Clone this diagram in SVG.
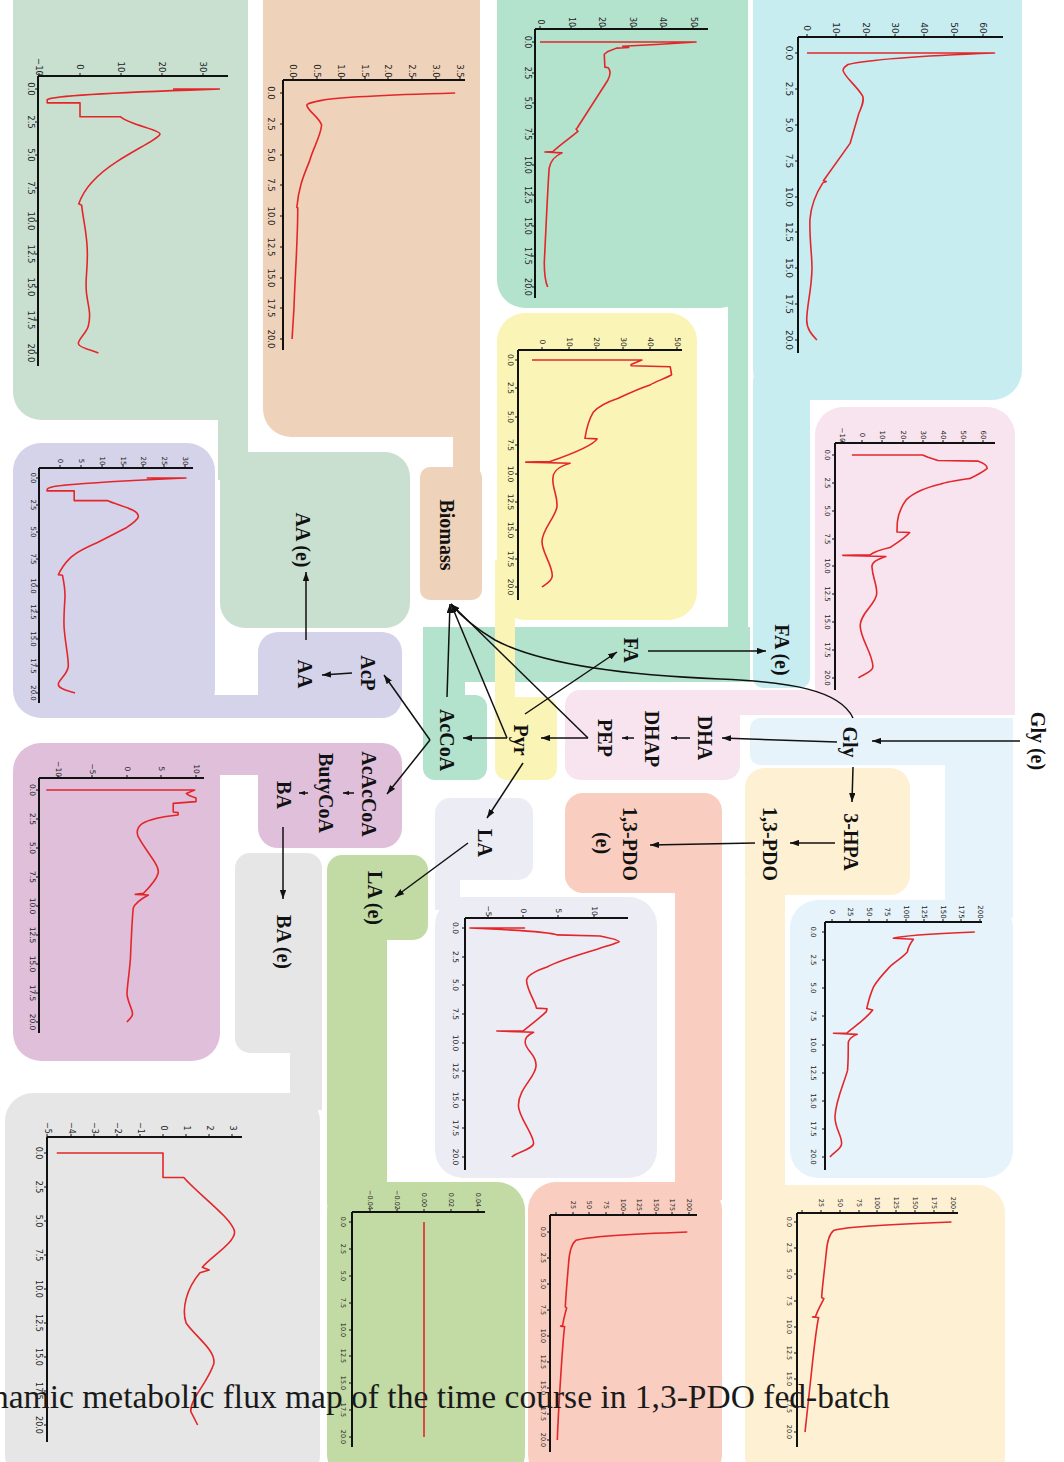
<svg xmlns="http://www.w3.org/2000/svg" width="1064" height="1462" viewBox="0 0 1064 1462">
<style>
.ax{stroke:#111;stroke-width:2;fill:none}
.tk{stroke:#111;stroke-width:1;fill:none}
.cv{fill:none;stroke:#e3262a;stroke-width:1.6;vector-effect:non-scaling-stroke;stroke-linejoin:round}
.tl{font-family:"DejaVu Sans",sans-serif;fill:#222;text-anchor:middle;dominant-baseline:central}
.nd{font-family:"Liberation Serif",serif;font-weight:bold;font-size:20px;fill:#111;text-anchor:middle;dominant-baseline:central}
.ln{fill:none;stroke:#111;stroke-width:1.5}
.ar{marker-end:url(#ah)}
.as{marker-end:url(#ahs)}
</style>
<defs>
<marker id="ah" viewBox="0 0 10 7" markerWidth="9" markerHeight="6.3" refX="10" refY="3.5" orient="auto" markerUnits="userSpaceOnUse"><path d="M0,0L10,3.5L0,7z" fill="#111"/></marker>
<marker id="ahs" viewBox="0 0 10 7" markerWidth="6" markerHeight="4.5" refX="10" refY="3.5" orient="auto" markerUnits="userSpaceOnUse"><path d="M0,0L10,3.5L0,7z" fill="#111"/></marker>
</defs>
<rect width="1064" height="1462" fill="#fff"/>
<g id="panels">
<g fill="#c9e0d1"><rect x="13" y="-30" width="235" height="450" rx="28"/><rect x="218" y="380" width="30" height="100"/><rect x="220" y="452" width="190" height="176" rx="25"/></g>
<g fill="#eed3ba"><rect x="263" y="-30" width="217" height="467" rx="28"/><rect x="453" y="400" width="27" height="80"/><rect x="420" y="467" width="62" height="133" rx="10"/></g>
<g fill="#b3e2cd"><rect x="497" y="-30" width="251" height="338" rx="28"/><rect x="728" y="280" width="20" height="402"/><rect x="423" y="627" width="327" height="55"/><rect x="423" y="627" width="42" height="80"/><rect x="423" y="695" width="64" height="85" rx="12"/></g>
<g fill="#c8edf1"><rect x="753" y="-30" width="269" height="430" rx="30"/><rect x="753" y="370" width="57" height="318" rx="10"/></g>
<g fill="#faf5b6"><rect x="497" y="313" width="200" height="307" rx="28"/><rect x="495" y="560" width="20" height="160"/><rect x="495" y="697" width="62" height="83" rx="12"/></g>
<g fill="#f7e4ef"><rect x="815" y="407" width="200" height="308" rx="28"/><rect x="707" y="690" width="308" height="25"/><rect x="565" y="690" width="175" height="90" rx="15"/></g>
<g fill="#e7f3fb"><rect x="750" y="718" width="263" height="47" rx="10"/><rect x="945" y="718" width="68" height="200"/><rect x="790" y="900" width="223" height="278" rx="28"/></g>
<g fill="#fdf0d3"><rect x="745" y="768" width="165" height="127" rx="20"/><rect x="745" y="880" width="40" height="330"/><rect x="745" y="1185" width="260" height="300" rx="28"/></g>
<g fill="#f9cdbf"><rect x="565" y="793" width="157" height="100" rx="18"/><rect x="675" y="870" width="47" height="330"/><rect x="528" y="1182" width="194" height="300" rx="28"/></g>
<g fill="#ececf4"><rect x="435" y="798" width="98" height="82" rx="15"/><rect x="435" y="870" width="25" height="40"/><rect x="435" y="897" width="222" height="281" rx="28"/></g>
<g fill="#c2daa4"><rect x="327" y="855" width="101" height="85" rx="15"/><rect x="327" y="925" width="60" height="280"/><rect x="327" y="1182" width="198" height="300" rx="28"/></g>
<g fill="#e6e6e6"><rect x="235" y="853" width="87" height="200" rx="15"/><rect x="290" y="1040" width="32" height="70"/><rect x="5" y="1093" width="315" height="390" rx="28"/></g>
<g fill="#d5d3ea"><rect x="13" y="443" width="202" height="275" rx="28"/><rect x="180" y="695" width="130" height="23"/><rect x="258" y="632" width="144" height="86" rx="20"/></g>
<g fill="#dfbfda"><rect x="13" y="743" width="207" height="318" rx="28"/><rect x="180" y="743" width="130" height="32"/><rect x="258" y="743" width="144" height="105" rx="20"/></g>
</g>

<g id="plot-1">
<path class="ax" d="M38,76H228M38,76V366"/>
<path class="tk" d="M39,76v-3M80,76v-3M121,76v-3M162,76v-3M203,76v-3M38,89h-3M38,122h-3M38,155h-3M38,188h-3M38,221h-3M38,254h-3M38,287h-3M38,320h-3M38,353h-3"/>
<g class="tl" font-size="8.5">
<text transform="translate(39,67) rotate(90)">−10</text><text transform="translate(80,67) rotate(90)">0</text><text transform="translate(121,67) rotate(90)">10</text><text transform="translate(162,67) rotate(90)">20</text><text transform="translate(203,67) rotate(90)">30</text>
<text transform="translate(31,89) rotate(90)">0.0</text><text transform="translate(31,122) rotate(90)">2.5</text><text transform="translate(31,155) rotate(90)">5.0</text><text transform="translate(31,188) rotate(90)">7.5</text><text transform="translate(31,221) rotate(90)">10.0</text><text transform="translate(31,254) rotate(90)">12.5</text><text transform="translate(31,287) rotate(90)">15.0</text><text transform="translate(31,320) rotate(90)">17.5</text><text transform="translate(31,353) rotate(90)">20.0</text>
</g>
<path class="cv" transform="matrix(0,13.2,4.1,0,80,89)" d="M0,22.7L0,34C0.15,20 0.4,-6 0.8,-8L1.05,-8L1.05,0L2.1,0L2.1,9.8C2.7,12 3.1,19.5 3.4,19.5C3.7,19.5 4.5,14 5.5,9C6.5,4 7.5,1 8.7,-0.3L8.8,0.4C10,0.8 11,1.8 12.5,1.8C14,1.8 14.5,1.2 15.5,1.6C16.5,2 17,2.8 18,2C18.5,1.5 19,-0.5 19.3,-0.4C19.6,-0.3 19.8,3 20,4.5"/>
</g>

<g id="plot-2">
<path class="ax" d="M283,80H465M283,80V350"/>
<path class="tk" d="M293,80v-3M317,80v-3M341,80v-3M365,80v-3M388,80v-3M412,80v-3M436,80v-3M460,80v-3M283,93h-3M283,124h-3M283,155h-3M283,185h-3M283,216h-3M283,247h-3M283,278h-3M283,308h-3M283,339h-3"/>
<g class="tl" font-size="8.5">
<text transform="translate(293,71) rotate(90)">0.0</text><text transform="translate(317,71) rotate(90)">0.5</text><text transform="translate(341,71) rotate(90)">1.0</text><text transform="translate(365,71) rotate(90)">1.5</text><text transform="translate(388,71) rotate(90)">2.0</text><text transform="translate(412,71) rotate(90)">2.5</text><text transform="translate(436,71) rotate(90)">3.0</text><text transform="translate(460,71) rotate(90)">3.5</text>
<text transform="translate(271,93) rotate(90)">0.0</text><text transform="translate(271,124) rotate(90)">2.5</text><text transform="translate(271,155) rotate(90)">5.0</text><text transform="translate(271,185) rotate(90)">7.5</text><text transform="translate(271,216) rotate(90)">10.0</text><text transform="translate(271,247) rotate(90)">12.5</text><text transform="translate(271,278) rotate(90)">15.0</text><text transform="translate(271,308) rotate(90)">17.5</text><text transform="translate(271,339) rotate(90)">20.0</text>
</g>
<path class="cv" transform="matrix(0,12.3,47.7,0,293,93)" d="M0,3.4C0.15,2 0.3,1 0.6,0.6C0.75,0.4 0.85,0.29 1,0.29C1.4,0.3 2,0.55 2.6,0.6C3.5,0.58 4.5,0.42 5.5,0.35C6.5,0.25 7.5,0.12 9.3,0.08L9.35,0.1C12,0.1 15,0.04 17.5,0.02L20,-0.02"/>
</g>

<g id="plot-3">
<path class="ax" d="M535,29H708M535,29V298"/>
<path class="tk" d="M540,29v-3M571,29v-3M601,29v-3M632,29v-3M662,29v-3M693,29v-3M535,42h-3M535,73h-3M535,103h-3M535,134h-3M535,165h-3M535,195h-3M535,226h-3M535,256h-3M535,287h-3"/>
<g class="tl" font-size="8">
<text transform="translate(540,22) rotate(90)">0</text><text transform="translate(571,22) rotate(90)">10</text><text transform="translate(601,22) rotate(90)">20</text><text transform="translate(632,22) rotate(90)">30</text><text transform="translate(662,22) rotate(90)">40</text><text transform="translate(693,22) rotate(90)">50</text>
<text transform="translate(527,42) rotate(90)">0.0</text><text transform="translate(527,73) rotate(90)">2.5</text><text transform="translate(527,103) rotate(90)">5.0</text><text transform="translate(527,134) rotate(90)">7.5</text><text transform="translate(527,165) rotate(90)">10.0</text><text transform="translate(527,195) rotate(90)">12.5</text><text transform="translate(527,226) rotate(90)">15.0</text><text transform="translate(527,256) rotate(90)">17.5</text><text transform="translate(527,287) rotate(90)">20.0</text>
</g>
<path class="cv" transform="matrix(0,12.25,3.06,0,540,42)" d="M0,0L0,51L0.2,38L0.35,27L0.45,29L0.5,25L0.8,22L1,21L2.05,21.2L2.1,22.3C2.3,23 2.7,23 3.1,22.2L7,12.2L7.1,11.8L7.3,12.4C7.8,10 8.4,6.5 8.95,4.2L8.98,1.6L9.05,7.2C9.3,5 9.6,3.5 10.3,3C12,2.5 15,2 18,1.4C19,1.4 19.6,1.8 20,2.5"/>
</g>

<g id="plot-4">
<path class="ax" d="M798,37H1003M798,37V353"/>
<path class="tk" d="M807,37v-3M836,37v-3M866,37v-3M895,37v-3M924,37v-3M954,37v-3M983,37v-3M798,53h-3M798,89h-3M798,125h-3M798,161h-3M798,197h-3M798,232h-3M798,268h-3M798,304h-3M798,340h-3"/>
<g class="tl" font-size="9">
<text transform="translate(807,28) rotate(90)">0</text><text transform="translate(836,28) rotate(90)">10</text><text transform="translate(866,28) rotate(90)">20</text><text transform="translate(895,28) rotate(90)">30</text><text transform="translate(924,28) rotate(90)">40</text><text transform="translate(954,28) rotate(90)">50</text><text transform="translate(983,28) rotate(90)">60</text>
<text transform="translate(789,53) rotate(90)">0.0</text><text transform="translate(789,89) rotate(90)">2.5</text><text transform="translate(789,125) rotate(90)">5.0</text><text transform="translate(789,161) rotate(90)">7.5</text><text transform="translate(789,197) rotate(90)">10.0</text><text transform="translate(789,232) rotate(90)">12.5</text><text transform="translate(789,268) rotate(90)">15.0</text><text transform="translate(789,304) rotate(90)">17.5</text><text transform="translate(789,340) rotate(90)">20.0</text>
</g>
<path class="cv" transform="matrix(0,14.35,2.93,0,807,53)" d="M0,0L0,64C0.15,45 0.4,22 0.8,14C1,12.5 1.1,12.3 1.2,12.3C1.6,12.5 2.3,17 3,19C3.3,19.5 3.6,19 4.2,17.7L6.3,14.7L8.9,5.6L8.95,6.6L9.05,5.4C9.8,3 10.6,1.4 11.6,1C13,0.8 14,1.7 15,1.7C16.5,1.6 17.5,0 18.6,-0.1C19.3,-0.1 19.7,2 20,3.4"/>
</g>

<g id="plot-5">
<path class="ax" d="M518,350H682M518,350V600"/>
<path class="tk" d="M542,350v-3M569,350v-3M596,350v-3M623,350v-3M650,350v-3M677,350v-3M518,360h-3M518,388h-3M518,417h-3M518,445h-3M518,474h-3M518,502h-3M518,530h-3M518,559h-3M518,587h-3"/>
<g class="tl" font-size="7.5">
<text transform="translate(542,342) rotate(90)">0</text><text transform="translate(569,342) rotate(90)">10</text><text transform="translate(596,342) rotate(90)">20</text><text transform="translate(623,342) rotate(90)">30</text><text transform="translate(650,342) rotate(90)">40</text><text transform="translate(677,342) rotate(90)">50</text>
<text transform="translate(510,360) rotate(90)">0.0</text><text transform="translate(510,388) rotate(90)">2.5</text><text transform="translate(510,417) rotate(90)">5.0</text><text transform="translate(510,445) rotate(90)">7.5</text><text transform="translate(510,474) rotate(90)">10.0</text><text transform="translate(510,502) rotate(90)">12.5</text><text transform="translate(510,530) rotate(90)">15.0</text><text transform="translate(510,559) rotate(90)">17.5</text><text transform="translate(510,587) rotate(90)">20.0</text>
</g>
<path class="cv" transform="matrix(0,11.35,2.7,0,542,360)" d="M0,-3.7L0,37L0.4,33L0.5,33L0.6,47.5L1.3,48C1.6,46 1.9,42 2.2,40C2.6,35 3,31.6 3.4,28C3.8,23 4.2,20.5 4.6,19C5.2,17.5 6,16.5 6.9,15.9L6.95,20.4C7.5,19 8.2,12 8.95,3L9,-6L9.1,10.4C9.4,6 9.8,4 10.5,4C11.5,4 12,6 13,5.5C14,4.5 15,0 16,0C17,0 18,3.8 19,3.8C19.5,3.8 19.8,1 20,0"/>
</g>

<g id="plot-6">
<path class="ax" d="M835,443H995M835,443V690"/>
<path class="tk" d="M842,443v-3M862,443v-3M882,443v-3M903,443v-3M923,443v-3M943,443v-3M963,443v-3M983,443v-3M835,455h-3M835,483h-3M835,511h-3M835,539h-3M835,566h-3M835,594h-3M835,622h-3M835,650h-3M835,678h-3"/>
<g class="tl" font-size="7">
<text transform="translate(842,435) rotate(90)">−10</text><text transform="translate(862,435) rotate(90)">0</text><text transform="translate(882,435) rotate(90)">10</text><text transform="translate(903,435) rotate(90)">20</text><text transform="translate(923,435) rotate(90)">30</text><text transform="translate(943,435) rotate(90)">40</text><text transform="translate(963,435) rotate(90)">50</text><text transform="translate(983,435) rotate(90)">60</text>
<text transform="translate(827,455) rotate(90)">0.0</text><text transform="translate(827,483) rotate(90)">2.5</text><text transform="translate(827,511) rotate(90)">5.0</text><text transform="translate(827,539) rotate(90)">7.5</text><text transform="translate(827,566) rotate(90)">10.0</text><text transform="translate(827,594) rotate(90)">12.5</text><text transform="translate(827,622) rotate(90)">15.0</text><text transform="translate(827,650) rotate(90)">17.5</text><text transform="translate(827,678) rotate(90)">20.0</text>
</g>
<path class="cv" transform="matrix(0,11.15,2.02,0,862,455)" d="M0,-5L0,30L0.2,32.7L0.5,37.6L0.55,57.6C0.7,60 0.9,62 1.2,62C1.5,60 1.8,57 2.1,53.5C2.3,46 2.4,42 2.6,39C2.9,32 3.3,26 4,22C4.6,19.5 5.2,18 6,17.5L6.9,17.3L6.95,23.6C7.5,21 7.9,17 8.3,13.9C8.5,9 8.7,6 8.95,4L9,-9.5L9.1,11.8C9.4,7 9.6,5 10,4.9C11,5.2 11.5,7.3 12.4,7.3C13.3,7.3 14.2,-0.9 15.3,-0.9C16.5,-0.9 17.8,5.4 19,5.4C19.5,5.4 19.8,-1 20,-1.7"/>
</g>

<g id="plot-7">
<path class="ax" d="M39,468H193M39,468V703"/>
<path class="tk" d="M60,468v-3M81,468v-3M102,468v-3M123,468v-3M143,468v-3M164,468v-3M185,468v-3M39,478h-3M39,505h-3M39,532h-3M39,559h-3M39,586h-3M39,612h-3M39,639h-3M39,666h-3M39,693h-3"/>
<g class="tl" font-size="7">
<text transform="translate(60,461) rotate(90)">0</text><text transform="translate(81,461) rotate(90)">5</text><text transform="translate(102,461) rotate(90)">10</text><text transform="translate(123,461) rotate(90)">15</text><text transform="translate(143,461) rotate(90)">20</text><text transform="translate(164,461) rotate(90)">25</text><text transform="translate(185,461) rotate(90)">30</text>
<text transform="translate(33,478) rotate(90)">0.0</text><text transform="translate(33,505) rotate(90)">2.5</text><text transform="translate(33,532) rotate(90)">5.0</text><text transform="translate(33,559) rotate(90)">7.5</text><text transform="translate(33,586) rotate(90)">10.0</text><text transform="translate(33,612) rotate(90)">12.5</text><text transform="translate(33,639) rotate(90)">15.0</text><text transform="translate(33,666) rotate(90)">17.5</text><text transform="translate(33,693) rotate(90)">20.0</text>
</g>
<path class="cv" transform="matrix(0,10.75,4.17,0,60,478)" d="M0,20.8L0,30.2C0.2,18 0.4,9.6 0.6,3C0.75,-2 0.9,-3.1 1.1,-3.1L1.2,-3.1L1.2,3.4L2.1,3.4L2.1,11.3C2.4,13 2.7,16 3,17.5C3.2,18.5 3.4,18.8 3.6,18.8C3.9,18.6 4.2,17.5 4.6,16C5.2,13 5.6,11 6,9C6.5,6 7,3.5 7.5,2.3C8,1 8.5,0.2 9,-0.4L9.05,0.6C9.8,1 10.5,1.2 11,1.2C12,1.1 13,0.8 14,1C15.5,1.3 16.5,2 17.5,2C18.3,1.8 18.8,-0.4 19.2,-0.4C19.6,-0.4 19.8,2 20,3.6"/>
</g>

<g id="plot-8">
<path class="ax" d="M39,778H204M39,778V1033"/>
<path class="tk" d="M58,778v-3M92,778v-3M127,778v-3M161,778v-3M196,778v-3M39,790h-3M39,819h-3M39,848h-3M39,877h-3M39,906h-3M39,935h-3M39,964h-3M39,993h-3M39,1022h-3"/>
<g class="tl" font-size="7.5">
<text transform="translate(58,769) rotate(90)">−10</text><text transform="translate(92,769) rotate(90)">−5</text><text transform="translate(127,769) rotate(90)">0</text><text transform="translate(161,769) rotate(90)">5</text><text transform="translate(196,769) rotate(90)">10</text>
<text transform="translate(32,790) rotate(90)">0.0</text><text transform="translate(32,819) rotate(90)">2.5</text><text transform="translate(32,848) rotate(90)">5.0</text><text transform="translate(32,877) rotate(90)">7.5</text><text transform="translate(32,906) rotate(90)">10.0</text><text transform="translate(32,935) rotate(90)">12.5</text><text transform="translate(32,964) rotate(90)">15.0</text><text transform="translate(32,993) rotate(90)">17.5</text><text transform="translate(32,1022) rotate(90)">20.0</text>
</g>
<path class="cv" transform="matrix(0,11.6,6.9,0,127,790)" d="M0,-11.7L0,9.8L0.3,8.6L0.5,9.1L0.7,10L1,10L1.15,6.7L1.9,6.7L1.95,7.4L2.15,7.4C2.3,5 2.6,3 2.9,2.2C3.2,1.5 3.5,1.3 4,1.6C4.8,2.3 5.6,3.4 6.3,4.1C6.7,4.5 7,4.6 7.2,4.5C7.7,4.3 8.3,3.4 8.9,2.4L9,1.2L9.05,3.1C9.4,2 9.8,1.1 10.2,0.9C11.5,0.7 13,0.6 14.5,0.5C16,0.3 17,0 17.6,0C18.3,0.1 18.9,0.8 19.3,0.8C19.6,0.8 19.8,0.2 20,0"/>
</g>

<g id="plot-9">
<path class="ax" d="M47,1137H242M47,1137V1442"/>
<path class="tk" d="M47,1137v-3M71,1137v-3M94,1137v-3M117,1137v-3M140,1137v-3M163,1137v-3M186,1137v-3M209,1137v-3M232,1137v-3M47,1153h-3M47,1187h-3M47,1221h-3M47,1255h-3M47,1289h-3M47,1323h-3M47,1357h-3M47,1391h-3M47,1425h-3"/>
<g class="tl" font-size="8">
<text transform="translate(47,1128) rotate(90)">−5</text><text transform="translate(71,1128) rotate(90)">−4</text><text transform="translate(94,1128) rotate(90)">−3</text><text transform="translate(117,1128) rotate(90)">−2</text><text transform="translate(140,1128) rotate(90)">−1</text><text transform="translate(163,1128) rotate(90)">0</text><text transform="translate(186,1128) rotate(90)">1</text><text transform="translate(209,1128) rotate(90)">2</text><text transform="translate(232,1128) rotate(90)">3</text>
<text transform="translate(38,1153) rotate(90)">0.0</text><text transform="translate(38,1187) rotate(90)">2.5</text><text transform="translate(38,1221) rotate(90)">5.0</text><text transform="translate(38,1255) rotate(90)">7.5</text><text transform="translate(38,1289) rotate(90)">10.0</text><text transform="translate(38,1323) rotate(90)">12.5</text><text transform="translate(38,1357) rotate(90)">15.0</text><text transform="translate(38,1391) rotate(90)">17.5</text><text transform="translate(38,1425) rotate(90)">20.0</text>
</g>
<path class="cv" transform="matrix(0,13.6,23.1,0,163,1153)" d="M0,-4.6L0,0L1.8,0L1.8,0.9C3,1.5 4.8,3 5.8,3.1C6.6,3.1 7.6,2.1 8.4,1.7L8.6,2L8.8,1.6C10,1 11.5,0.8 12.5,1C13.5,1.4 14.5,2.3 15.5,2.2C17,1.9 18,1.2 19,1.2L20,1.5"/>
</g>

<g id="plot-10">
<path class="ax" d="M352,1212H485M352,1212V1447"/>
<path class="tk" d="M370,1212v-3M397,1212v-3M424,1212v-3M451,1212v-3M478,1212v-3M352,1222h-3M352,1249h-3M352,1276h-3M352,1303h-3M352,1330h-3M352,1356h-3M352,1383h-3M352,1410h-3M352,1437h-3"/>
<g class="tl" font-size="6.5">
<text transform="translate(370,1200) rotate(90)">−0.04</text><text transform="translate(397,1200) rotate(90)">−0.02</text><text transform="translate(424,1200) rotate(90)">0.00</text><text transform="translate(451,1200) rotate(90)">0.02</text><text transform="translate(478,1200) rotate(90)">0.04</text>
<text transform="translate(343,1222) rotate(90)">0.0</text><text transform="translate(343,1249) rotate(90)">2.5</text><text transform="translate(343,1276) rotate(90)">5.0</text><text transform="translate(343,1303) rotate(90)">7.5</text><text transform="translate(343,1330) rotate(90)">10.0</text><text transform="translate(343,1356) rotate(90)">12.5</text><text transform="translate(343,1383) rotate(90)">15.0</text><text transform="translate(343,1410) rotate(90)">17.5</text><text transform="translate(343,1437) rotate(90)">20.0</text>
</g>
<path class="cv" d="M424,1222V1437"/>
</g>

<g id="plot-11">
<path class="ax" d="M465,918H628M465,918V1170"/>
<path class="tk" d="M488,918v-3M523,918v-3M558,918v-3M594,918v-3M465,928h-3M465,957h-3M465,985h-3M465,1014h-3M465,1043h-3M465,1071h-3M465,1100h-3M465,1128h-3M465,1157h-3"/>
<g class="tl" font-size="7.5">
<text transform="translate(488,911) rotate(90)">−5</text><text transform="translate(523,911) rotate(90)">0</text><text transform="translate(558,911) rotate(90)">5</text><text transform="translate(594,911) rotate(90)">10</text>
<text transform="translate(455,928) rotate(90)">0.0</text><text transform="translate(455,957) rotate(90)">2.5</text><text transform="translate(455,985) rotate(90)">5.0</text><text transform="translate(455,1014) rotate(90)">7.5</text><text transform="translate(455,1043) rotate(90)">10.0</text><text transform="translate(455,1071) rotate(90)">12.5</text><text transform="translate(455,1100) rotate(90)">15.0</text><text transform="translate(455,1128) rotate(90)">17.5</text><text transform="translate(455,1157) rotate(90)">20.0</text>
</g>
<path class="cv" transform="matrix(0,11.45,7.07,0,523,928)" d="M0,0.3L0,-7.5C0.2,0 0.4,4 0.6,4.8L0.7,10.9C0.9,12.5 1.1,13.6 1.2,13.6C1.5,13 2.5,6 3.4,3.4C3.8,1.5 4.2,0.5 4.6,0.5C5.5,0.6 6.5,1.8 7,1.9L7.05,3.4L7.3,3.3C7.8,2.5 8.5,1 9,0L9,-3.7L9.1,1.5C9.4,0.5 9.6,0.3 10,0.3C10.8,0.5 11,1.85 12,1.85C13,1.85 14,-0.65 15.5,-0.65C16.5,-0.65 18,1.5 18.8,1.5C19.3,1.5 19.6,-1 20,-1.6"/>
</g>

<g id="plot-12">
<path class="ax" d="M825,922H982M825,922V1170"/>
<path class="tk" d="M832,922v-3M850,922v-3M869,922v-3M887,922v-3M906,922v-3M924,922v-3M943,922v-3M961,922v-3M980,922v-3M825,932h-3M825,960h-3M825,988h-3M825,1016h-3M825,1045h-3M825,1073h-3M825,1101h-3M825,1129h-3M825,1157h-3"/>
<g class="tl" font-size="7">
<text transform="translate(832,912) rotate(90)">0</text><text transform="translate(850,912) rotate(90)">25</text><text transform="translate(869,912) rotate(90)">50</text><text transform="translate(887,912) rotate(90)">75</text><text transform="translate(906,912) rotate(90)">100</text><text transform="translate(924,912) rotate(90)">125</text><text transform="translate(943,912) rotate(90)">150</text><text transform="translate(961,912) rotate(90)">175</text><text transform="translate(980,912) rotate(90)">200</text>
<text transform="translate(813,932) rotate(90)">0.0</text><text transform="translate(813,960) rotate(90)">2.5</text><text transform="translate(813,988) rotate(90)">5.0</text><text transform="translate(813,1016) rotate(90)">7.5</text><text transform="translate(813,1045) rotate(90)">10.0</text><text transform="translate(813,1073) rotate(90)">12.5</text><text transform="translate(813,1101) rotate(90)">15.0</text><text transform="translate(813,1129) rotate(90)">17.5</text><text transform="translate(813,1157) rotate(90)">20.0</text>
</g>
<path class="cv" transform="matrix(0,11.25,0.74,0,832,932)" d="M0,193C0.2,120 0.4,90 0.56,83L0.65,110C1,106 1.3,103 1.75,102C2.3,95 2.8,82 3.1,78C3.8,68 4.4,60 4.9,56C5.5,52 6.5,48 6.8,47L6.93,55C7.8,45 8.5,28 9,20L9,2L9.1,34C9.3,26 9.5,22 9.9,22C11,22 11.5,22 12.3,21C13.5,16 15,5 16.4,4C17.5,4 18,13 18.8,13C19.3,13 19.6,2 20,-2.7"/>
</g>

<g id="plot-13">
<path class="ax" d="M797,1213H958M797,1213V1447"/>
<path class="tk" d="M802,1213v-3M821,1213v-3M840,1213v-3M859,1213v-3M877,1213v-3M896,1213v-3M915,1213v-3M934,1213v-3M953,1213v-3M797,1222h-3M797,1248h-3M797,1274h-3M797,1301h-3M797,1327h-3M797,1353h-3M797,1379h-3M797,1406h-3M797,1432h-3"/>
<g class="tl" font-size="6.5">
<text transform="translate(821,1203) rotate(90)">25</text><text transform="translate(840,1203) rotate(90)">50</text><text transform="translate(859,1203) rotate(90)">75</text><text transform="translate(877,1203) rotate(90)">100</text><text transform="translate(896,1203) rotate(90)">125</text><text transform="translate(915,1203) rotate(90)">150</text><text transform="translate(934,1203) rotate(90)">175</text><text transform="translate(953,1203) rotate(90)">200</text>
<text transform="translate(789,1222) rotate(90)">0.0</text><text transform="translate(789,1248) rotate(90)">2.5</text><text transform="translate(789,1274) rotate(90)">5.0</text><text transform="translate(789,1301) rotate(90)">7.5</text><text transform="translate(789,1327) rotate(90)">10.0</text><text transform="translate(789,1353) rotate(90)">12.5</text><text transform="translate(789,1379) rotate(90)">15.0</text><text transform="translate(789,1406) rotate(90)">17.5</text><text transform="translate(789,1432) rotate(90)">20.0</text>
</g>
<path class="cv" transform="matrix(0,10.5,0.755,0,802,1222)" d="M0,198C0.2,120 0.4,60 0.8,42C1.2,35 2,33 3,32C4.5,30 6,27 7.2,26L7.3,29C8,24 8.5,20 9,18L9.05,14L9.1,22C10,19 12,16 14,13C16,10 18,7 20,4"/>
</g>

<g id="plot-14">
<path class="ax" d="M550,1215H697M550,1215V1452"/>
<path class="tk" d="M556,1215v-3M573,1215v-3M589,1215v-3M606,1215v-3M623,1215v-3M639,1215v-3M656,1215v-3M672,1215v-3M689,1215v-3M550,1232h-3M550,1258h-3M550,1284h-3M550,1310h-3M550,1336h-3M550,1362h-3M550,1388h-3M550,1414h-3M550,1440h-3"/>
<g class="tl" font-size="6.5">
<text transform="translate(573,1205) rotate(90)">25</text><text transform="translate(589,1205) rotate(90)">50</text><text transform="translate(606,1205) rotate(90)">75</text><text transform="translate(623,1205) rotate(90)">100</text><text transform="translate(639,1205) rotate(90)">125</text><text transform="translate(656,1205) rotate(90)">150</text><text transform="translate(672,1205) rotate(90)">175</text><text transform="translate(689,1205) rotate(90)">200</text>
<text transform="translate(543,1232) rotate(90)">0.0</text><text transform="translate(543,1258) rotate(90)">2.5</text><text transform="translate(543,1284) rotate(90)">5.0</text><text transform="translate(543,1310) rotate(90)">7.5</text><text transform="translate(543,1336) rotate(90)">10.0</text><text transform="translate(543,1362) rotate(90)">12.5</text><text transform="translate(543,1388) rotate(90)">15.0</text><text transform="translate(543,1414) rotate(90)">17.5</text><text transform="translate(543,1440) rotate(90)">20.0</text>
</g>
<path class="cv" transform="matrix(0,10.4,0.663,0,556,1232)" d="M0,198C0.2,110 0.4,50 0.8,30C1.2,22 2,20 3,19C4.5,17 6,15 7.2,14L7.3,16C8,13 8.5,11 9,10L9.05,7L9.1,13C10,11 12,9 14,7C16,5 18,3 20,2"/>
</g>

<g id="connectors">
<path class="ln ar" d="M1020,741L872,741"/>
<path class="ln ar" d="M837,742L722,738"/>
<path class="ln as" d="M690,738L671,738"/>
<path class="ln as" d="M634,738L622,738"/>
<path class="ln ar" d="M588,738L541,738"/>
<path class="ln ar" d="M588,738L451,604"/>
<path class="ln ar" d="M507,738L463,738"/>
<path class="ln ar" d="M507,738L451,604"/>
<path class="ln ar" d="M447,697L450,604"/>
<path class="ln ar" d="M853,718C840,690 790,682 720,679C620,675 540,664 495,640C475,628 460,615 451,604"/>
<path class="ln ar" d="M525,714L617,652"/>
<path class="ln ar" d="M648,651L766,651"/>
<path class="ln ar" d="M523,763L487,818"/>
<path class="ln ar" d="M468,843L395,897"/>
<path class="ln ar" d="M430,740L384,675"/>
<path class="ln ar" d="M430,740L387,794"/>
<path class="ln ar" d="M352,673L322,675"/>
<path class="ln ar" d="M306,640L306,572"/>
<path class="ln as" d="M354,793L343,793"/>
<path class="ln as" d="M308,793L299,793"/>
<path class="ln ar" d="M283,827L283,899"/>
<path class="ln ar" d="M853,767L852,802"/>
<path class="ln ar" d="M835,843L790,843"/>
<path class="ln ar" d="M755,843L650,845"/>
</g>

<g id="node-gly-e"><text class="nd" transform="translate(1038,741) rotate(90)">Gly (e)</text></g>
<g id="node-gly"><text class="nd" transform="translate(850,742) rotate(90)">Gly</text></g>
<g id="node-dha"><text class="nd" transform="translate(705,738) rotate(90)">DHA</text></g>
<g id="node-dhap"><text class="nd" transform="translate(652,739) rotate(90)">DHAP</text></g>
<g id="node-pep"><text class="nd" transform="translate(605,738) rotate(90)">PEP</text></g>
<g id="node-pyr"><text class="nd" transform="translate(521,740) rotate(90)">Pyr</text></g>
<g id="node-accoa"><text class="nd" transform="translate(447,740) rotate(90)">AcCoA</text></g>
<g id="node-fa"><text class="nd" transform="translate(631,650) rotate(90)">FA</text></g>
<g id="node-fa-e"><text class="nd" transform="translate(782,650) rotate(90)">FA (e)</text></g>
<g id="node-biomass"><text class="nd" transform="translate(447,535) rotate(90)">Biomass</text></g>
<g id="node-aa-e"><text class="nd" transform="translate(303,540) rotate(90)">AA (e)</text></g>
<g id="node-acp"><text class="nd" transform="translate(368,673) rotate(90)">AcP</text></g>
<g id="node-aa"><text class="nd" transform="translate(305,674) rotate(90)">AA</text></g>
<g id="node-acaccoa"><text class="nd" transform="translate(369,794) rotate(90)">AcAcCoA</text></g>
<g id="node-butycoa"><text class="nd" transform="translate(326,793) rotate(90)">ButyCoA</text></g>
<g id="node-ba"><text class="nd" transform="translate(284,795) rotate(90)">BA</text></g>
<g id="node-ba-e"><text class="nd" transform="translate(284,942) rotate(90)">BA (e)</text></g>
<g id="node-la-e"><text class="nd" transform="translate(375,898) rotate(90)">LA (e)</text></g>
<g id="node-la"><text class="nd" transform="translate(485,843) rotate(90)">LA</text></g>
<g id="node-3hpa"><text class="nd" transform="translate(851,842) rotate(90)">3-HPA</text></g>
<g id="node-pdo"><text class="nd" transform="translate(770,844) rotate(90)">1,3-PDO</text></g>
<g id="node-pdo-e"><text class="nd" transform="translate(630,844) rotate(90)">1,3-PDO</text><text class="nd" transform="translate(603,843) rotate(90)">(e)</text></g>

<text x="-8" y="1408" font-family="Liberation Serif,serif" font-size="33.5" fill="#1a1a1a">namic metabolic flux map of the time course in 1,3-PDO fed-batch</text>
</svg>
